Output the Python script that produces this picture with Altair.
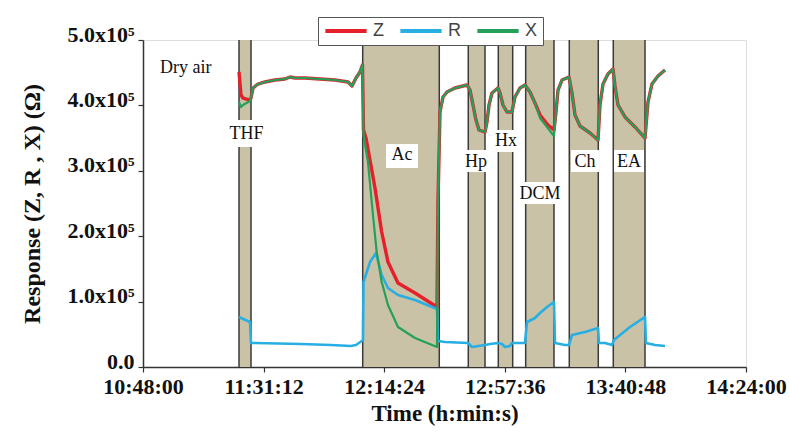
import altair as alt
import pandas as pd

# ---------------- data (time in minutes after 10:48:00, response in ohm) ----------------
z_time = [34.39, 35.10, 35.82, 38.33, 38.69, 39.40, 41.19, 43.70, 47.28, 50.86, 52.66, 54.45,
          58.03, 63.40, 68.77, 73.43, 74.86, 76.30, 77.73, 78.62, 78.98, 79.88, 81.31, 83.10,
          85.50, 87.76, 91.34, 97.43, 105.31, 105.67, 106.39, 107.46, 108.90, 111.76, 116.06,
          117.14, 118.21, 119.28, 120.36, 122.51, 123.22, 123.94, 125.01, 127.16, 127.88,
          128.95, 130.38, 132.17, 133.25, 135.04, 136.83, 138.62, 140.41, 142.21, 145.07,
          147.22, 147.94, 148.66, 150.09, 152.60, 153.67, 154.75, 156.54, 160.12, 162.99,
          163.70, 164.78, 166.57, 168.36, 169.07, 170.15, 172.65, 176.23, 179.82, 180.89,
          182.32, 184.47, 186.98]
z_value = [451100, 415900, 411300, 408200, 411300, 426600, 432700, 435800, 438800, 440400,
           443400, 441900, 441900, 440400, 438800, 435800, 429600, 441900, 451100, 461800,
           362400, 350100, 316500, 273700, 206400, 160500, 128400, 113100, 91700, 255300,
           389900, 412800, 420500, 426600, 431200, 423500, 400600, 377700, 362400, 359300,
           374600, 400600, 419000, 426600, 419000, 400600, 389900, 389900, 412800, 426600,
           431200, 420500, 403700, 385300, 370000, 362400, 389900, 423500, 438800, 443400,
           419000, 385300, 368500, 357800, 347100, 400600, 432700, 448000, 455600, 429600,
           400600, 382300, 367000, 350100, 405200, 432700, 444900, 454100]

x_time = [34.39, 35.10, 35.82, 38.33, 38.69, 39.40, 41.19, 43.70, 47.28, 50.86, 52.66, 54.45,
          58.03, 63.40, 68.77, 73.43, 74.86, 76.30, 77.73, 78.62, 78.98, 80.59, 82.38, 83.71,
          85.50, 87.76, 91.34, 97.43, 105.31, 105.67, 106.39, 107.46, 108.90, 111.76, 116.06,
          117.14, 118.21, 119.28, 120.36, 122.51, 123.22, 123.94, 125.01, 127.16, 127.88,
          128.95, 130.38, 132.17, 133.25, 135.04, 136.83, 138.62, 140.41, 142.21, 145.07,
          147.22, 147.94, 148.66, 150.09, 152.60, 153.67, 154.75, 156.54, 160.12, 162.99,
          163.70, 164.78, 166.57, 168.36, 169.07, 170.15, 172.65, 176.23, 179.82, 180.89,
          182.32, 184.47, 186.98]
x_value = [405200, 397500, 400600, 406700, 411300, 426600, 432700, 435800, 438800, 440400,
           443400, 441900, 441900, 440400, 438800, 435800, 429600, 441900, 451100, 461800,
           354700, 313400, 232400, 175800, 130000, 94800, 61200, 44300, 30600, 255300,
           389900, 412800, 420500, 426600, 431200, 423500, 400600, 377700, 362400, 359300,
           374600, 400600, 419000, 426600, 419000, 400600, 389900, 389900, 412800, 426600,
           431200, 420500, 403700, 380700, 365000, 353200, 389900, 423500, 438800, 443400,
           419000, 385300, 368500, 357800, 347100, 400600, 432700, 448000, 455600, 429600,
           400600, 382300, 367000, 350100, 405200, 432700, 444900, 454100]

r_time = [34.39, 35.10, 38.33, 38.69, 40.12, 56.57, 67.32, 74.50, 76.30, 78.33, 78.80, 78.98,
          81.31, 83.46, 85.50, 87.76, 91.34, 97.43, 105.31, 105.67, 108.18, 116.42, 117.85,
          122.51, 124.30, 127.16, 128.59, 129.67, 131.46, 132.17, 136.83, 137.55, 140.41,
          142.21, 144.71, 147.22, 147.58, 151.16, 152.60, 153.67, 158.32, 162.99, 163.34,
          165.49, 168.00, 168.71, 174.44, 179.82, 180.17, 183.40, 186.98]
r_value = [76500, 74900, 68800, 36700, 36700, 35200, 33600, 32100, 33600, 39800, 41300, 130000,
           160500, 174300, 140700, 120800, 110100, 102400, 88700, 39800, 38200, 36700, 30600,
           33600, 35200, 36700, 35200, 30600, 32100, 36700, 36700, 68800, 74900, 82600, 91700,
           99400, 36700, 33600, 33600, 48900, 53500, 59600, 36700, 36700, 33600, 41300, 61200,
           76500, 36700, 33600, 32100]

series_names = ["Z", "R", "X"]
series_colors = ["#e5202b", "#27aee3", "#24a05a"]
series_widths = [3.4, 2.6, 2.2]

# exposure windows (minutes after 10:48:00)
regions = ["THF", "Ac", "Hp", "Hx", "DCM", "Ch", "EA"]
region_start = [34.39, 78.70, 116.52, 127.27, 137.08, 152.70, 168.46]
region_end = [38.69, 106.13, 122.51, 132.43, 147.22, 163.09, 179.82]

# annotation label positions and white label boxes
label_t = [37.07, 92.8, 119.3, 130.0, 142.2, 158.3, 174.1]
label_v = [356300, 324000, 313400, 345600, 264500, 313400, 313400]
box_t0 = [30.44, 87.04, 114.27, 125.73, 133.61, 153.31, 168.71]
box_t1 = [43.69, 98.51, 124.30, 134.33, 150.81, 163.34, 179.46]
box_v0 = [336400, 304300, 298200, 328700, 249200, 298200, 298200]
box_v1 = [377700, 341000, 331800, 362400, 282900, 331800, 331800]

dry_text = ["Dry air"]
dry_t = [6.1]
dry_v = [457000]

x_ticks = [0, 43.2, 86.4, 129.6, 172.8, 216]
x_tick_labels = ["10:48:00", "11:31:12", "12:14:24", "12:57:36", "13:40:48", "14:24:00"]
y_ticks = [0, 100000, 200000, 300000, 400000, 500000]
y_tick_labels = ["0.0", "1.0x10\u2075", "2.0x10\u2075", "3.0x10\u2075", "4.0x10\u2075", "5.0x10\u2075"]

# ---------------- tables ----------------
lines_df = pd.concat([
    pd.DataFrame({"t": z_time, "v": z_value, "series": "Z", "k": range(len(z_time))}),
    pd.DataFrame({"t": r_time, "v": r_value, "series": "R", "k": range(len(r_time))}),
    pd.DataFrame({"t": x_time, "v": x_value, "series": "X", "k": range(len(x_time))}),
])
reg_df = pd.DataFrame({"name": regions, "t0": region_start, "t1": region_end,
                       "v0": 0, "v1": 500000})
edge_df = pd.DataFrame({"t": region_start + region_end, "v0": 0, "v1": 500000})
lab_df = pd.DataFrame({"name": regions, "t": label_t, "v": label_v,
                       "bt0": box_t0, "bt1": box_t1, "bv0": box_v0, "bv1": box_v1})
dry_df = pd.DataFrame({"name": dry_text, "t": dry_t, "v": dry_v})

def js_list(items):
    return "[" + ",".join("'" + s + "'" for s in items) + "]"

xscale = alt.Scale(domain=[0, 216], nice=False, zero=False)
yscale = alt.Scale(domain=[0, 500000], nice=False)

x_axis = alt.Axis(values=x_ticks, title="Time (h:min:s)",
                  labelExpr=js_list(x_tick_labels) + "[round(datum.value/43.2)]",
                  labelFont="Liberation Serif", labelFontSize=22, labelFontWeight="bold",
                  labelColor="#111", titleFont="Liberation Serif", titleFontSize=23,
                  titleFontWeight="bold", titleColor="#111", titlePadding=5,
                  grid=False, domainColor="#333", domainWidth=1.5, tickColor="#333",
                  tickSize=5, tickWidth=1.2, labelPadding=4, labelFlush=False, labelOverlap=False)
y_axis = alt.Axis(values=y_ticks, title="Response (Z, R , X) (\u03a9)",
                  labelExpr=js_list(y_tick_labels) + "[round(datum.value/100000)]",
                  labelFont="Liberation Serif", labelFontSize=22, labelFontWeight="bold",
                  labelColor="#111", titleFont="Liberation Serif", titleFontSize=24,
                  titleFontWeight="bold", titleColor="#111", titlePadding=22,
                  grid=False, domainColor="#333", domainWidth=1.5, tickColor="#333",
                  tickSize=5, tickWidth=1.2, labelPadding=4, labelFlush=False, labelOverlap=False,
                  labelBaseline="middle", labelOffset=-6)

shade = alt.Chart(reg_df).mark_rect(color="#c9c2a6").encode(
    x=alt.X("t0:Q", scale=xscale, axis=x_axis), x2="t1:Q",
    y=alt.Y("v0:Q", scale=yscale, axis=y_axis), y2="v1:Q")

edges = alt.Chart(edge_df).mark_rule(color="#3a3a3a", strokeWidth=1.5).encode(
    x=alt.X("t:Q", scale=xscale), y=alt.Y("v0:Q", scale=yscale), y2="v1:Q")

boxes = alt.Chart(lab_df).mark_rect(color="white").encode(
    x=alt.X("bt0:Q", scale=xscale), x2="bt1:Q",
    y=alt.Y("bv0:Q", scale=yscale), y2="bv1:Q")

color_enc = alt.Color("series:N",
                      scale=alt.Scale(domain=series_names, range=series_colors),
                      legend=alt.Legend(title=None, orient="none", direction="horizontal",
                                        legendX=175, legendY=-23,
                                        symbolType="stroke", symbolSize=1700,
                                        symbolStrokeWidth=4, clipHeight=18,
                                        labelFont="Liberation Sans", labelFontSize=18,
                                        labelColor="#444", labelOffset=4,
                                        columnPadding=14, padding=5,
                                        strokeColor="#555", fillColor="white"))

line_layers = []
for name, w in zip(series_names, series_widths):
    line_layers.append(
        alt.Chart(lines_df).transform_filter(alt.datum.series == name)
        .mark_line(strokeWidth=w, strokeJoin="round")
        .encode(x=alt.X("t:Q", scale=xscale), y=alt.Y("v:Q", scale=yscale),
                color=color_enc, order="k:Q"))

labels = alt.Chart(lab_df).mark_text(font="Liberation Serif", fontSize=18, color="#111",
                                     baseline="middle", align="center").encode(
    x=alt.X("t:Q", scale=xscale), y=alt.Y("v:Q", scale=yscale), text="name:N")

dry = alt.Chart(dry_df).mark_text(font="Liberation Serif", fontSize=18, color="#111",
                                  baseline="middle", align="left").encode(
    x=alt.X("t:Q", scale=xscale), y=alt.Y("v:Q", scale=yscale), text="name:N")

chart = alt.layer(shade, edges, boxes, *line_layers, labels, dry).properties(
    width=603, height=327,
    autosize=alt.AutoSizeParams(type="none"),
    padding={"left": 143, "top": 40, "right": 44, "bottom": 68},
).configure_view(stroke="#333", strokeWidth=1.5).configure(background="white")

chart.save("out.html", embed_options={"renderer": "svg", "actions": False})
